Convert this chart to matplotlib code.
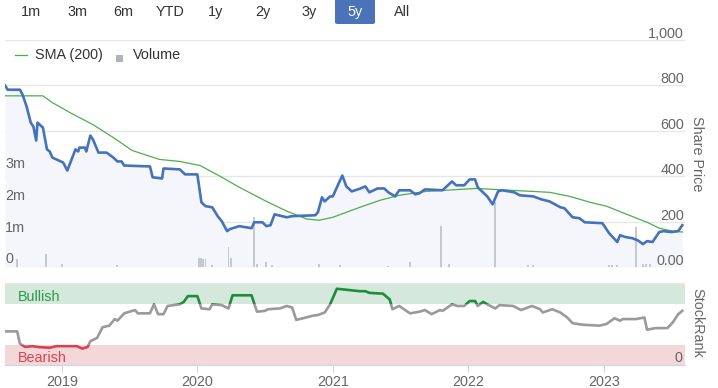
import numpy as np
import matplotlib
matplotlib.use('Agg')
import matplotlib.pyplot as plt
from matplotlib.patches import Rectangle, FancyBboxPatch
from matplotlib.lines import Line2D

plt.rcParams['font.family'] = ['Liberation Sans', 'DejaVu Sans']
plt.rcParams['font.size'] = 10.4

# share price (x in decimal years)
price_t = [2018.58, 2018.60, 2018.69, 2018.71, 2018.74, 2018.77, 2018.79, 2018.81, 2018.82, 2018.86,
           2018.89, 2018.91, 2018.93, 2019.01, 2019.04, 2019.10, 2019.12, 2019.13, 2019.17, 2019.18,
           2019.21, 2019.23, 2019.27, 2019.33, 2019.38, 2019.41, 2019.44, 2019.46, 2019.65, 2019.67,
           2019.74, 2019.75, 2019.87, 2019.91, 2020.00, 2020.03, 2020.06, 2020.11, 2020.15, 2020.18,
           2020.22, 2020.24, 2020.31, 2020.40, 2020.42, 2020.48, 2020.51, 2020.54, 2020.57, 2020.66,
           2020.70, 2020.87, 2020.89, 2020.92, 2020.94, 2020.98, 2021.00, 2021.04, 2021.07, 2021.10,
           2021.14, 2021.20, 2021.24, 2021.27, 2021.33, 2021.38, 2021.41, 2021.46, 2021.49, 2021.57,
           2021.61, 2021.64, 2021.68, 2021.81, 2021.88, 2021.91, 2021.97, 2022.01, 2022.05, 2022.07,
           2022.14, 2022.18, 2022.22, 2022.25, 2022.34, 2022.38, 2022.48, 2022.54, 2022.60, 2022.68,
           2022.71, 2022.77, 2022.82, 2022.86, 2022.99, 2023.04, 2023.10, 2023.12, 2023.16, 2023.21,
           2023.25, 2023.29, 2023.32, 2023.36, 2023.41, 2023.44, 2023.50, 2023.55, 2023.58]
price = [800, 781, 781, 759, 706, 636, 618, 557, 636, 614,
         518, 509, 482, 460, 425, 518, 509, 526, 526, 509,
         579, 561, 504, 504, 482, 465, 465, 447, 443, 395,
         390, 434, 430, 408, 408, 285, 268, 263, 224, 202,
         158, 167, 180, 171, 197, 197, 180, 184, 232, 219,
         224, 228, 241, 307, 289, 311, 311, 364, 403, 355,
         333, 345, 355, 329, 346, 346, 329, 311, 338, 338,
         320, 325, 342, 338, 377, 360, 360, 386, 386, 351,
         311, 276, 333, 338, 329, 316, 311, 298, 289, 263,
         259, 219, 215, 197, 193, 149, 110, 140, 132, 127,
         118, 101, 114, 110, 154, 158, 154, 158, 184]

# 200 day moving average
sma_t = [2018.58, 2018.86, 2018.93, 2019.06, 2019.23, 2019.38, 2019.52, 2019.72, 2019.87, 2020.02,
         2020.17, 2020.31, 2020.51, 2020.66, 2020.81, 2020.90, 2021.00, 2021.10, 2021.20, 2021.35,
         2021.49, 2021.69, 2021.94, 2022.06, 2022.31, 2022.60, 2022.75, 2022.90, 2023.02, 2023.17,
         2023.32, 2023.41, 2023.51, 2023.58]
sma = [754, 754, 724, 680, 627, 570, 513, 474, 465, 447,
       399, 351, 289, 246, 211, 206, 219, 241, 263, 294,
       316, 333, 342, 346, 338, 329, 311, 285, 268, 232,
       197, 171, 158, 154]

# volume in millions of shares
vol_t = [2018.67, 2018.88, 2019.00, 2019.41, 2020.01, 2020.03, 2020.04, 2020.06, 2020.11, 2020.23,
         2020.25, 2020.42, 2020.44, 2020.51, 2020.55, 2020.90, 2021.05, 2021.41, 2021.57, 2021.80,
         2021.86, 2022.20, 2022.44, 2022.48, 2023.04, 2023.06, 2023.10, 2023.24, 2023.29, 2023.31,
         2023.34]
volume = [0.26, 0.42, 0.10, 0.07, 0.30, 0.28, 0.25, 0.25, 0.07, 0.65,
          0.30, 1.58, 0.08, 0.16, 0.07, 0.08, 0.07, 0.04, 0.16, 1.30,
          0.10, 2.07, 0.05, 0.05, 0.05, 0.05, 0.05, 1.26, 0.08, 0.08,
          0.08]

# StockRank
rank_t = [2018.58, 2018.67, 2018.69, 2018.73, 2018.78, 2018.82, 2018.91, 2018.96, 2019.11, 2019.15,
          2019.19, 2019.21, 2019.26, 2019.30, 2019.35, 2019.39, 2019.41, 2019.46, 2019.50, 2019.54,
          2019.56, 2019.65, 2019.68, 2019.71, 2019.75, 2019.78, 2019.87, 2019.90, 2019.93, 2020.00,
          2020.03, 2020.09, 2020.11, 2020.18, 2020.23, 2020.26, 2020.40, 2020.44, 2020.50, 2020.52,
          2020.61, 2020.66, 2020.70, 2020.73, 2020.78, 2020.85, 2020.89, 2020.94, 2020.98, 2021.03,
          2021.20, 2021.24, 2021.27, 2021.37, 2021.42, 2021.44, 2021.49, 2021.57, 2021.64, 2021.68,
          2021.73, 2021.79, 2021.81, 2021.88, 2021.92, 2021.97, 2022.01, 2022.05, 2022.07, 2022.11,
          2022.14, 2022.20, 2022.23, 2022.33, 2022.39, 2022.47, 2022.53, 2022.55, 2022.62, 2022.68,
          2022.73, 2022.77, 2022.85, 2022.97, 2023.02, 2023.08, 2023.12, 2023.14, 2023.24, 2023.30,
          2023.32, 2023.38, 2023.47, 2023.51, 2023.55, 2023.58]
rank = [41, 41, 26, 22, 23, 22, 21, 23, 23, 20,
        22, 29, 33, 46, 48, 56, 54, 63, 65, 67,
        63, 63, 74, 62, 62, 72, 74, 77, 84, 84,
        69, 68, 74, 73, 69, 85, 85, 65, 66, 68,
        69, 72, 70, 55, 57, 60, 61, 64, 74, 93,
        90, 90, 88, 87, 80, 68, 72, 63, 65, 67,
        62, 67, 66, 74, 72, 72, 78, 78, 72, 77,
        74, 69, 73, 72, 67, 72, 68, 64, 68, 64,
        58, 51, 49, 48, 50, 57, 54, 56, 56, 58,
        43, 45, 45, 52, 62, 66]

years = [2019, 2020, 2021, 2022, 2023]
price_ticks = [0, 200, 400, 600, 800, 1000]
price_labels = ['0.00', '200', '400', '600', '800', '1,000']
vol_ticks = [0, 1, 2, 3]
vol_labels = ['0', '1m', '2m', '3m']
buttons = ['1m', '3m', '6m', 'YTD', '1y', '2y', '3y', '5y', 'All']
button_x = [31, 77, 123, 170, 216, 263, 309, 355, 402]

blue = '#4572bd'
green = '#4cae4c'
txt = '#666666'
grid = '#e6e6e6'

W, H = 718, 388
fig = plt.figure(figsize=(W / 100, H / 100), dpi=100)

def box(l, t, r, b):
    return [l / W, 1 - b / H, (r - l) / W, (b - t) / H]

x0, x1 = 2018.58, 2023.60

# price panel
ax = fig.add_axes(box(5, 40, 685, 267))
ax.set_xlim(x0, x1)
ax.set_ylim(0, 1000)
ax.fill_between(price_t, price, 0, color='#f5f6fb', lw=0, zorder=1)
for v, lab in zip(price_ticks, price_labels):
    ax.axhline(v, color=grid, lw=1, zorder=0)
    ax.annotate(lab, xy=(1, v), xycoords=('axes fraction', 'data'), xytext=(-1, 2),
                textcoords='offset pixels', ha='right', va='baseline', color=txt)
ax.axis('off')

# volume on its own scale
axv = ax.twinx()
axv.set_xlim(x0, x1)
axv.set_ylim(0, 227 / 31.5)
axv.bar(vol_t, volume, width=0.014, color='#c6c8d0', zorder=2)
for v, lab in zip(vol_ticks, vol_labels):
    axv.annotate(lab, xy=(0, v), xycoords=('axes fraction', 'data'), xytext=(0, 4),
                 textcoords='offset pixels', ha='left', va='baseline', color=txt)
axv.axis('off')

# price lines on top
axp = ax.twinx()
axp.set_xlim(x0, x1)
axp.set_ylim(0, 1000)
axp.plot(sma_t, sma, color=green, lw=0.9)
axp.plot(price_t, price, color=blue, lw=1.9, solid_joinstyle='round')
axp.axis('off')

fig.text(697 / W, 1 - 154 / H, 'Share Price', rotation=-90, ha='center', va='center', color=txt)

# StockRank panel
ax2 = fig.add_axes(box(5, 283, 685, 365))
ax2.set_xlim(x0, x1)
ax2.set_ylim(0, 100)
ax2.axhspan(75, 100, color='#d4e8dc', lw=0, zorder=0)
ax2.axhspan(0, 25, color='#f4d7d9', lw=0, zorder=0)
ax2.axhline(100, color=grid, lw=1, zorder=0)
for lo, hi, col in [(-10, 25, '#d8424f'), (25, 75, '#9a9a9a'), (75, 110, '#1f8b3d')]:
    ln, = ax2.plot(rank_t, rank, color=col, lw=1.9, zorder=3)
    ln.set_clip_path(Rectangle((x0, lo), x1 - x0, hi - lo, transform=ax2.transData))
ax2.text(13 / 680, 83.5, 'Bullish', transform=ax2.get_yaxis_transform(), color='#2d9a4a',
         va='center', ha='left')
ax2.text(13 / 680, 8.5, 'Bearish', transform=ax2.get_yaxis_transform(), color='#d9434f',
         va='center', ha='left')
ax2.annotate('0', xy=(1, 0), xycoords=('axes fraction', 'data'), xytext=(-3, 3),
             textcoords='offset pixels', ha='right', va='baseline', color=txt)
for s in ['top', 'left', 'right']:
    ax2.spines[s].set_visible(False)
ax2.spines['bottom'].set_color('#ccd6eb')
ax2.set_yticks([])
ax2.set_xticks(years)
ax2.set_xticklabels([str(y) for y in years])
ax2.tick_params(axis='x', length=5, color='#ccd6eb', labelcolor=txt, pad=2)
fig.text(697 / W, 1 - 323 / H, 'StockRank', rotation=-90, ha='center', va='center', color=txt)

# range selector buttons
fig.patches.append(FancyBboxPatch((335 / W, 1 - 24 / H), 40 / W, 30 / H,
                                  boxstyle='round,pad=0,rounding_size=0.004',
                                  transform=fig.transFigure, fc='#4a73b9', ec='none'))
for b, bx in zip(buttons, button_x):
    fig.text(bx / W, 1 - 12 / H, b, ha='center', va='center',
             color='white' if b == '5y' else '#333333')

# legend
fig.lines.append(Line2D([15 / W, 27 / W], [1 - 55 / H] * 2, transform=fig.transFigure,
                        color=green, lw=0.9))
fig.text(35 / W, 1 - 55 / H, 'SMA (200)', ha='left', va='center', color='#333333')
fig.patches.append(Rectangle((116 / W, 1 - 62 / H), 7 / W, 7 / H, transform=fig.transFigure,
                             fc='#b0b3bb', ec='none'))
fig.text(133 / W, 1 - 55 / H, 'Volume', ha='left', va='center', color='#333333')

fig.savefig('out.png', dpi=100)
